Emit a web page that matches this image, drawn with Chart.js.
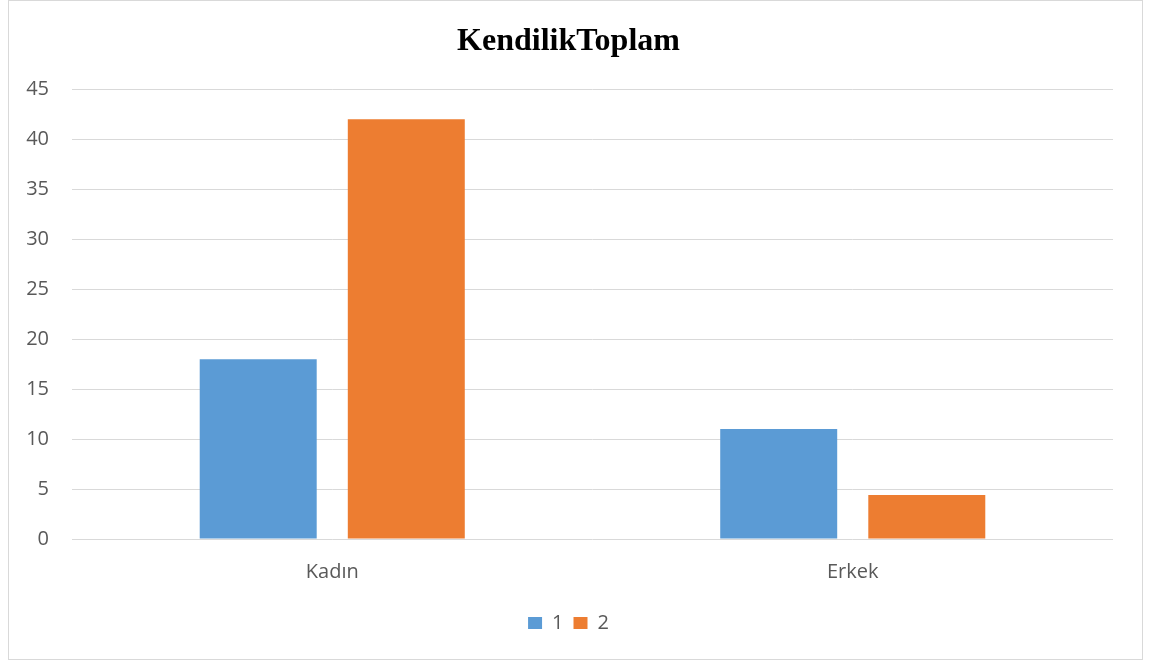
<!DOCTYPE html>
<html>
<head>
<meta charset="utf-8">
<script src="https://cdn.jsdelivr.net/npm/chart.js@4.4.0/dist/chart.umd.min.js"></script>
<style>
  html, body { margin: 0; padding: 0; background: #fff; }
  #frame {
    position: absolute;
    left: 8px;
    top: 0;
    width: 1133px;
    height: 658px;
    border: 1px solid #d9d9d9;
  }
  #chart { display: block; }
</style>
</head>
<body>
<div id="frame">
  <canvas id="chart" width="1133" height="658"></canvas>
</div>
<script>
const categories = ['Kadın', 'Erkek'];
const seriesNames = ['1', '2'];
const series1 = [18, 11];
const series2 = [42, 4.4];
const yTicks = [0, 5, 10, 15, 20, 25, 30, 35, 40, 45];

const textColor = '#595959';
const gridColor = '#d9d9d9';
const tickFont = { family: '"Open Sans", sans-serif', size: 20 };

const ctx = document.getElementById('chart').getContext('2d');

const chart = new Chart(ctx, {
    type: 'bar',
    data: {
        labels: categories,
        datasets: [
            {
                label: seriesNames[0],
                data: series1,
                backgroundColor: '#5b9bd5',
                categoryPercentage: 0.569,
                barPercentage: 0.79
            },
            {
                label: seriesNames[1],
                data: series2,
                backgroundColor: '#ed7d31',
                categoryPercentage: 0.569,
                barPercentage: 0.79
            }
        ]
    },
    options: {
        responsive: false,
        animation: false,
        layout: {
            padding: { left: 15, right: 29, top: 0, bottom: 16 }
        },
        scales: {
            x: {
                grid: { display: false },
                border: { display: false },
                ticks: {
                    color: textColor,
                    font: tickFont,
                    padding: 13
                },
                afterFit: (scale) => { scale.height = 64; }
            },
            y: {
                min: 0,
                max: 45,
                afterBuildTicks: (scale) => {
                    scale.ticks = yTicks.map(v => ({ value: v }));
                },
                grid: {
                    color: gridColor,
                    lineWidth: 1,
                    drawTicks: false
                },
                border: { display: false },
                ticks: {
                    color: textColor,
                    font: tickFont,
                    padding: 23
                },
                // label room = width - padding, keep it wider than "45"
                afterFit: (scale) => { scale.width = 48; }
            }
        },
        plugins: {
            title: {
                display: true,
                text: 'KendilikToplam',
                color: '#000000',
                font: { family: '"Liberation Serif", "Times New Roman", serif', size: 32, weight: 'bold' },
                padding: { top: 22, bottom: 28 }
            },
            legend: {
                position: 'bottom',
                labels: {
                    color: textColor,
                    font: tickFont,
                    boxWidth: 14,
                    boxHeight: 12,
                    padding: 10
                }
            },
            tooltip: { enabled: false }
        }
    }
});
</script>
</body>
</html>
